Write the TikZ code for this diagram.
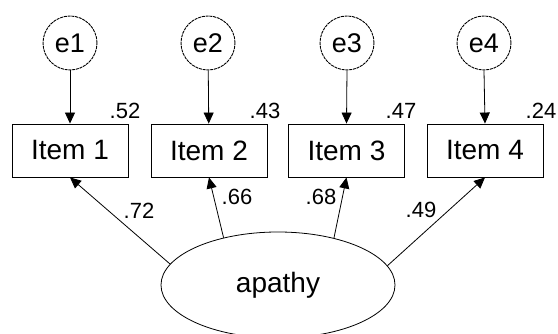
\documentclass[tikz,border=0pt]{standalone}
\usepackage{fontspec}
\setmainfont{Liberation Sans}
\usetikzlibrary{arrows.meta,shapes.geometric}
\begin{document}
\begin{tikzpicture}[x=1pt,y=-1pt,
  errc/.style={draw, circle, minimum size=54pt, inner sep=0pt, line width=0.9pt, dash pattern=on 3pt off 0.8pt, font=\fontsize{27}{30}\selectfont},
  itembox/.style={draw, rectangle, minimum width=116pt, minimum height=53pt, inner sep=0pt, line width=0.9pt, font=\fontsize{28}{30}\selectfont},
  latent/.style={draw, ellipse, minimum width=234pt, minimum height=106pt, inner sep=0pt, line width=0.8pt, font=\fontsize{28}{30}\selectfont},
  num/.style={font=\fontsize{22}{24}\selectfont, inner sep=0pt},
  arr/.style={line width=0.8pt, -{Triangle[length=11pt,width=10pt]}}]
\useasboundingbox (0,0) rectangle (558,334);
\node[errc] (e1) at (70,43) {e1};
\node[errc] (e2) at (208,43) {e2};
\node[errc] (e3) at (347,43) {e3};
\node[errc] (e4) at (484,43) {e4};
\node[itembox] (i1) at (70,150.5) {Item 1};
\node[itembox] (i2) at (209,150.5) {Item 2};
\node[itembox] (i3) at (346.5,150.5) {Item 3};
\node[itembox] (i4) at (485,150.5) {Item 4};
\node[latent] (ap) at (278,285) {apathy};
\draw[arr] (e1) -- (i1);
\draw[arr] (e2) -- (i2);
\draw[arr] (e3.south) -- (i3.north);
\draw[arr] (e4.south) -- (i4.north);
\draw[arr] (ap.169.7) -- (i1.south);
\draw[arr] (ap.139.5) -- (i2.south);
\draw[arr] (ap.40.5) -- (i3.south);
\draw[arr] (ap.10.4) -- (i4.south);
\node[num] (r1) at (125,111) {.52};
\node[num] (r2) at (265,111) {.43};
\node[num] (r3) at (401,111) {.47};
\node[num] (r4) at (541,111) {.24};
\node[num] (l1) at (139,211) {.72};
\node[num] (l2) at (237,197) {.66};
\node[num] (l3) at (321,197) {.68};
\node[num] (l4) at (421,210) {.49};
\end{tikzpicture}
\end{document}
